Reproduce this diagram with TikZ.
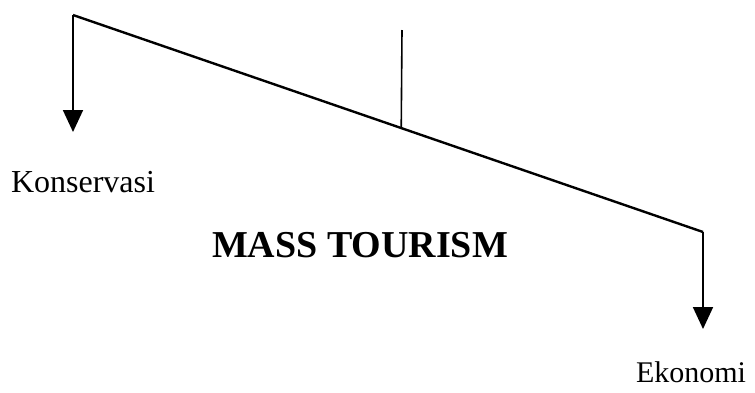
\documentclass[tikz,border=0pt]{standalone}
\usepackage{fontspec}
\setmainfont{Liberation Serif}
\usetikzlibrary{arrows.meta,positioning,calc}

\begin{document}
\begin{tikzpicture}[x=1pt, y=-1pt,
  beam/.style={line width=2.4pt, line join=miter},
  leg/.style={line width=1.8pt, -{Triangle[width=20pt,length=22pt]}},
  label/.style={anchor=base, inner sep=0pt, font=\fontsize{32}{36}\selectfont}]
\useasboundingbox (0,0) rectangle (755,392);

% ---- the tilted beam and its pivot ---------------------------------------
\coordinate (lefttop)  at (73,15);
\coordinate (righttop) at (703,232);
\coordinate (pivot)    at ($(lefttop)!0.521!(righttop)$);
\coordinate (stem)     at (402,30);
\draw[beam] (lefttop) -- (righttop);
\draw[line width=1.6pt] (stem) -- (pivot);

% ---- the two ends --------------------------------------------------------
\coordinate (leftend)  at (73,132);
\coordinate (rightend) at (703,329);
\draw[leg] (lefttop) -- (leftend);
\draw[leg] (righttop) -- (rightend);

% ---- labels --------------------------------------------------------------
\node[label] (konservasi) at (83,192) {Konservasi};
\node[label, font=\fontsize{30}{34}\selectfont] (ekonomi) at (691,382) {Ekonomi};
\node[label, font=\fontsize{38}{42}\selectfont\bfseries] (mass) at (360,257)
  {MASS TOURISM};
\end{tikzpicture}
\end{document}
